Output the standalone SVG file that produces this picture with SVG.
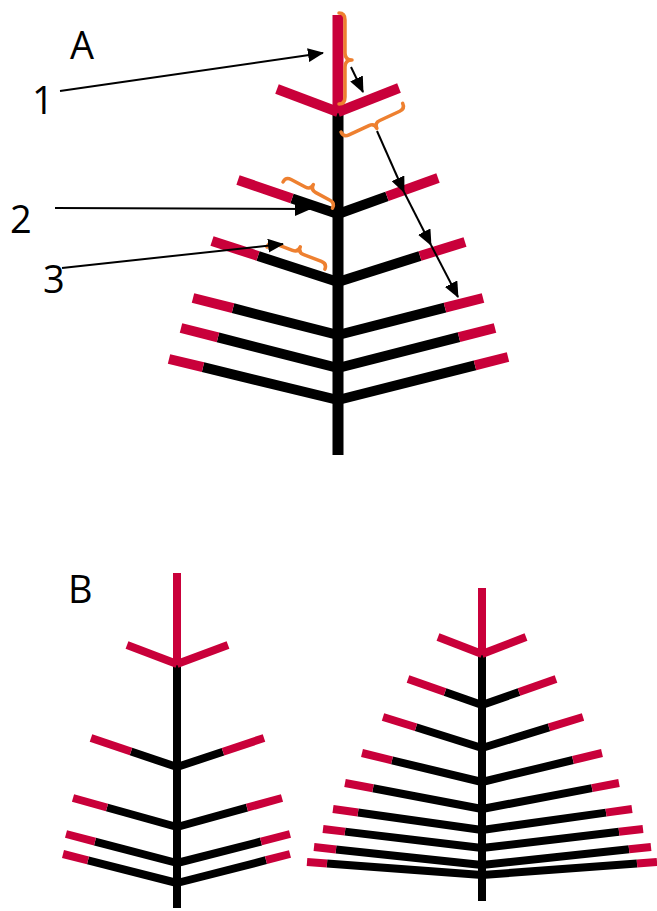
<svg xmlns="http://www.w3.org/2000/svg" width="657" height="911" viewBox="0 0 657 911">
<style>
.r{stroke:#C9003A;fill:none;stroke-linecap:butt}
.k{stroke:#000;fill:none;stroke-linecap:butt}
.a .r,.a .k{stroke-width:10}
.b .r,.b .k{stroke-width:8}
.br{stroke:#EE8030;stroke-width:3.5;fill:none;stroke-linecap:round;stroke-linejoin:round}
.c{stroke:#000;stroke-width:2;fill:none;marker-end:url(#ah)}
.lbl{font-family:"Open Sans","Noto Sans","DejaVu Sans",sans-serif;font-size:38px;fill:#000}
</style>
<defs>
<marker id="ah" viewBox="0 0 16 14" refX="15" refY="7" markerWidth="16" markerHeight="14" markerUnits="userSpaceOnUse" orient="auto">
<path d="M0,0 L16,7 L0,14 z" fill="#000"/>
</marker>
</defs>
<rect width="657" height="911" fill="#fff"/>

<g id="tree-A" class="a">
<line class="k" x1="338" y1="110" x2="338" y2="455" style="stroke-width:11"/>
<line class="r" x1="338" y1="15" x2="338" y2="113" style="stroke-width:11"/>
<line class="r" x1="338" y1="112" x2="277" y2="89"/>
<line class="r" x1="338" y1="112" x2="399" y2="88"/>
<line class="k" x1="338" y1="214" x2="292" y2="198.4"/><line class="r" x1="292" y1="198.4" x2="238" y2="180"/>
<line class="k" x1="338" y1="214" x2="387" y2="196.4"/><line class="r" x1="387" y1="196.4" x2="438" y2="178"/>
<line class="k" x1="338" y1="282" x2="258" y2="256"/><line class="r" x1="258" y1="256" x2="212" y2="241"/>
<line class="k" x1="338" y1="282" x2="420" y2="256"/><line class="r" x1="420" y1="256" x2="465" y2="242"/>
<line class="k" x1="338" y1="335" x2="233" y2="308.2"/><line class="r" x1="233" y1="308.2" x2="193" y2="298"/>
<line class="k" x1="338" y1="335" x2="445" y2="307.7"/><line class="r" x1="445" y1="307.7" x2="483" y2="298"/>
<line class="k" x1="338" y1="368" x2="218" y2="337.4"/><line class="r" x1="218" y1="337.4" x2="181" y2="328"/>
<line class="k" x1="338" y1="368" x2="459" y2="337.2"/><line class="r" x1="459" y1="337.2" x2="495" y2="328"/>
<line class="k" x1="338" y1="400" x2="203" y2="367.2"/><line class="r" x1="203" y1="367.2" x2="169" y2="359"/>
<line class="k" x1="338" y1="400" x2="475" y2="365.3"/><line class="r" x1="475" y1="365.3" x2="508" y2="357"/>
</g>

<g id="tree-B-left" class="b">
<line class="k" x1="177" y1="662" x2="177" y2="908"/>
<line class="r" x1="177" y1="573" x2="177" y2="665"/>
<line class="r" x1="177" y1="664" x2="127" y2="645"/>
<line class="r" x1="177" y1="664" x2="228" y2="645"/>
<line class="k" x1="177" y1="767" x2="131" y2="751.5"/><line class="r" x1="131" y1="751.5" x2="91" y2="738"/>
<line class="k" x1="177" y1="767" x2="223" y2="751.7"/><line class="r" x1="223" y1="751.7" x2="264" y2="738"/>
<line class="k" x1="177" y1="827" x2="107" y2="807.5"/><line class="r" x1="107" y1="807.5" x2="73" y2="798"/>
<line class="k" x1="177" y1="827" x2="247" y2="807.7"/><line class="r" x1="247" y1="807.7" x2="282" y2="798"/>
<line class="k" x1="177" y1="863" x2="95" y2="841.6"/><line class="r" x1="95" y1="841.6" x2="66" y2="834"/>
<line class="k" x1="177" y1="863" x2="261" y2="841.5"/><line class="r" x1="261" y1="841.5" x2="290" y2="834"/>
<line class="k" x1="177" y1="883" x2="88" y2="860.4"/><line class="r" x1="88" y1="860.4" x2="63" y2="854"/>
<line class="k" x1="177" y1="883" x2="266" y2="860.2"/><line class="r" x1="266" y1="860.2" x2="290" y2="854"/>
</g>

<g id="tree-B-right" class="b">
<line class="k" x1="482" y1="652" x2="482" y2="901"/>
<line class="r" x1="482" y1="588" x2="482" y2="655"/>
<line class="r" x1="482" y1="654" x2="438" y2="637"/>
<line class="r" x1="482" y1="654" x2="526" y2="637"/>
<line class="k" x1="482" y1="705" x2="445" y2="692"/><line class="r" x1="445" y1="692" x2="408" y2="679"/>
<line class="k" x1="482" y1="705" x2="519" y2="692"/><line class="r" x1="519" y1="692" x2="556" y2="679"/>
<line class="k" x1="482" y1="748" x2="416" y2="727.3"/><line class="r" x1="416" y1="727.3" x2="383" y2="717"/>
<line class="k" x1="482" y1="748" x2="549" y2="727.4"/><line class="r" x1="549" y1="727.4" x2="583" y2="717"/>
<line class="k" x1="482" y1="782" x2="392" y2="760.3"/><line class="r" x1="392" y1="760.3" x2="362" y2="753"/>
<line class="k" x1="482" y1="782" x2="573" y2="760"/><line class="r" x1="573" y1="760" x2="602" y2="753"/>
<line class="k" x1="482" y1="809" x2="373" y2="788.3"/><line class="r" x1="373" y1="788.3" x2="345" y2="783"/>
<line class="k" x1="482" y1="809" x2="592" y2="788.1"/><line class="r" x1="592" y1="788.1" x2="619" y2="783"/>
<line class="k" x1="482" y1="830" x2="358" y2="812.5"/><line class="r" x1="358" y1="812.5" x2="333" y2="809"/>
<line class="k" x1="482" y1="830" x2="606" y2="812.6"/><line class="r" x1="606" y1="812.6" x2="632" y2="809"/>
<line class="k" x1="482" y1="848" x2="345" y2="831.6"/><line class="r" x1="345" y1="831.6" x2="323" y2="829"/>
<line class="k" x1="482" y1="848" x2="619" y2="831.8"/><line class="r" x1="619" y1="831.8" x2="643" y2="829"/>
<line class="k" x1="482" y1="865" x2="336" y2="849.4"/><line class="r" x1="336" y1="849.4" x2="314" y2="847"/>
<line class="k" x1="482" y1="865" x2="629" y2="849.3"/><line class="r" x1="629" y1="849.3" x2="651" y2="847"/>
<line class="k" x1="482" y1="875" x2="327" y2="863.5"/><line class="r" x1="327" y1="863.5" x2="307" y2="862"/>
<line class="k" x1="482" y1="875" x2="637" y2="863.5"/><line class="r" x1="637" y1="863.5" x2="657" y2="862"/>
</g>

<g id="braces">
<path class="br" d="M339,13 Q345,13 345,20 L345,53 Q345,60 352,60 Q345,60 345,67 L345,97 Q345,104 339,104"/>
<path class="br" transform="translate(341,132) rotate(-25)" d="M0,0 Q0,6 6,6 L28,6 Q34,6 34,12 Q34,6 40,6 L62,6 Q68,6 68,0"/>
<path class="br" transform="translate(283,182) rotate(28)" d="M0,0 Q0,-6 6,-6 L22,-6 Q28,-6 28,-12 Q28,-6 34,-6 L50,-6 Q56,-6 56,0"/>
<path class="br" transform="translate(267,247) rotate(21)" d="M0,0 Q0,-6 6,-6 L25,-6 Q31,-6 31,-12 Q31,-6 37,-6 L56,-6 Q62,-6 62,0"/>
</g>

<g id="labels">
<text id="label-A" class="lbl" x="70" y="59">A</text>
<text id="label-1" class="lbl" x="32" y="114">1</text>
<text id="label-2" class="lbl" x="10" y="233">2</text>
<text id="label-3" class="lbl" x="43" y="293">3</text>
<text id="label-B" class="lbl" x="68" y="603">B</text>
</g>

<g id="connectors">
<line class="c" x1="60" y1="91" x2="323" y2="53"/>
<line class="c" x1="55" y1="208" x2="310" y2="209"/>
<line class="c" x1="62" y1="268" x2="283" y2="244"/>
<line class="c" x1="351" y1="67" x2="363" y2="92"/>
<line class="c" x1="377" y1="131" x2="404" y2="192"/>
<line class="c" x1="404" y1="192" x2="431" y2="245"/>
<line class="c" x1="431" y1="245" x2="458" y2="297"/>
</g>
</svg>
